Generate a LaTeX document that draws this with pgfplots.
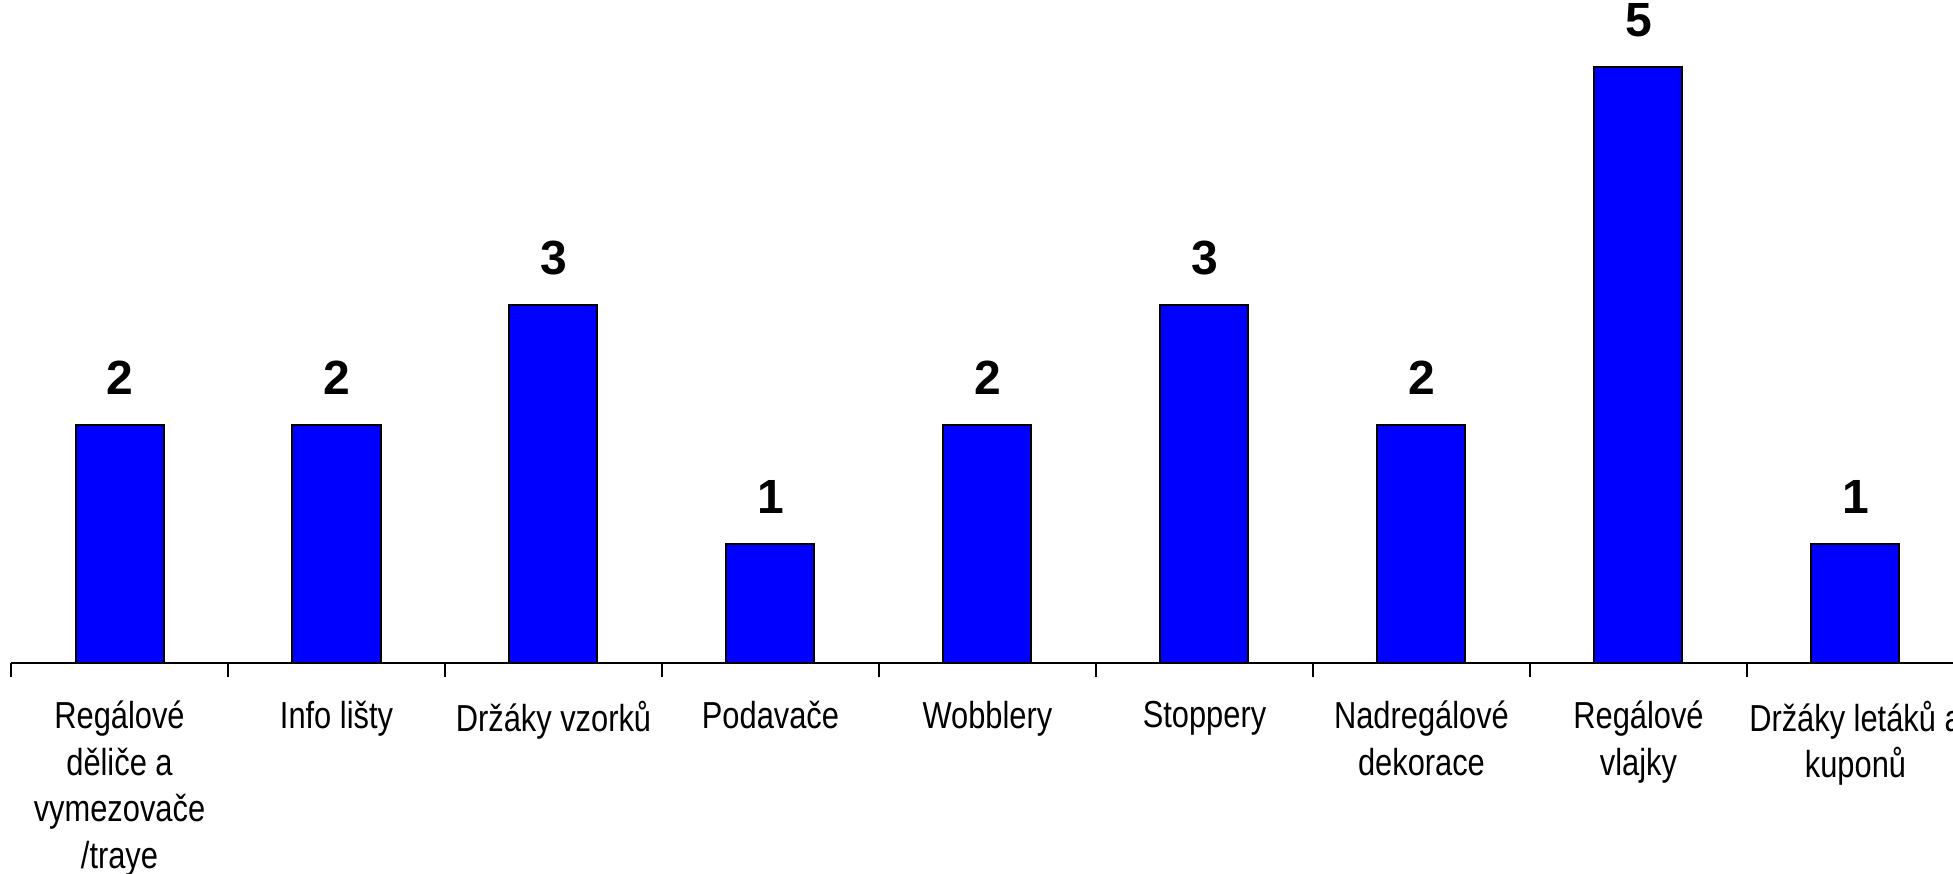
\documentclass[border=0pt]{standalone}
\usepackage{pgfplots}
\pgfplotsset{compat=1.18}
\usepackage{fontspec}
\setmainfont{Liberation Sans}
\newfontfamily\narrow[FakeStretch=0.82]{Liberation Sans}
\definecolor{barblue}{RGB}{0,0,255}

\begin{document}
\begin{tikzpicture}
  \begin{axis}[
      scale only axis,
      width=488.25pt,
      height=165.7pt,
      xmin=-0.5, xmax=8.5,
      ymin=0, ymax=5.56,
      axis x line*=bottom,
      axis y line=none,
      axis line style={line width=0.6pt, black},
      xtick={0,...,8},
      major tick length=0pt,
      minor xtick={-0.5,0.5,...,8.5},
      minor tick length=3.5pt,
      tick align=outside,
      minor tick style={line width=0.6pt, black},
      xticklabels={
        {Regálové\\děliče a\\vymezovače\\/traye},
        {Info lišty},
        {Držáky vzorků},
        {Podavače},
        {Wobblery},
        {Stoppery},
        {Nadregálové\\dekorace},
        {Regálové\\vlajky},
        {Držáky letáků a\\kuponů}
      },
      xticklabel style={
        align=center,
        font=\narrow\fontsize{9.4pt}{11.6pt}\selectfont,
        yshift=-6pt
      },
      ybar,
      bar width=22pt,
      nodes near coords,
      /pgf/number format/assume math mode=true,
      every node near coord/.append style={
        font=\fontsize{12pt}{14pt}\selectfont\bfseries,
        anchor=south,
        yshift=4pt
      },
    ]
    % counts per category
    \addplot[fill=barblue, draw=black, line width=0.5pt] coordinates {
      (0,2) (1,2) (2,3) (3,1) (4,2) (5,3) (6,2) (7,5) (8,1)
    };
    \coordinate (o) at (axis cs:-0.5,0);
  \end{axis}
  \pgfresetboundingbox
  \useasboundingbox ([xshift=-2.75pt,yshift=-52.75pt]o) rectangle ([xshift=485.5pt,yshift=165.75pt]o);
\end{tikzpicture}
\end{document}
